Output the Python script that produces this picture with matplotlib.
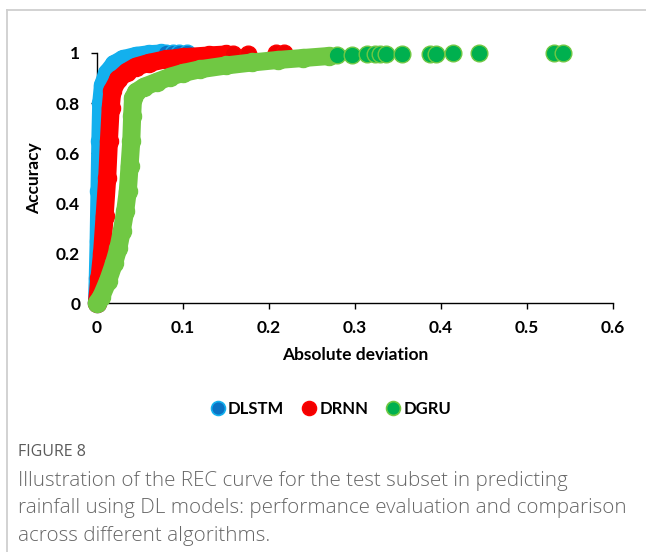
import matplotlib
matplotlib.use("Agg")
import matplotlib.pyplot as plt
from matplotlib.lines import Line2D

# ---- data ----
series_names = ["DLSTM", "DRNN", "DGRU"]

dlstm_dev = [0.000, 0.001, 0.002, 0.003, 0.004, 0.005, 0.007, 0.012, 0.020, 0.030, 0.045, 0.060, 0.075]
dlstm_acc = [0.00, 0.10, 0.25, 0.45, 0.65, 0.80, 0.87, 0.92, 0.955, 0.975, 0.988, 0.995, 0.998]
dlstm_tail_dev = [0.080, 0.088, 0.095, 0.105]
dlstm_tail_acc = [0.999, 0.999, 1.0, 1.0]

drnn_dev = [0.000, 0.003, 0.006, 0.009, 0.012, 0.014, 0.016, 0.018, 0.025, 0.035, 0.045, 0.060, 0.080, 0.100, 0.130, 0.150]
drnn_acc = [0.00, 0.10, 0.20, 0.35, 0.50, 0.65, 0.78, 0.85, 0.895, 0.925, 0.945, 0.960, 0.975, 0.983, 0.990, 0.994]
drnn_tail_dev = [0.158, 0.176, 0.208, 0.218]
drnn_tail_acc = [0.996, 0.997, 0.998, 0.999]

dgru_dev = [0.000, 0.005, 0.013, 0.020, 0.025, 0.029, 0.033, 0.036, 0.038, 0.040, 0.041, 0.042, 0.046,
            0.055, 0.070, 0.085, 0.100, 0.120, 0.150, 0.180, 0.210, 0.240, 0.270]
dgru_acc = [0.00, 0.025, 0.09, 0.16, 0.22, 0.29, 0.37, 0.45, 0.55, 0.65, 0.75, 0.82, 0.845,
            0.865, 0.885, 0.905, 0.920, 0.935, 0.950, 0.962, 0.972, 0.980, 0.988]
dgru_tail_dev = [0.279, 0.297, 0.314, 0.323, 0.329, 0.336, 0.355, 0.387, 0.394, 0.414, 0.444, 0.531, 0.542]
dgru_tail_acc = [0.992, 0.993, 0.994, 0.994, 0.995, 0.995, 0.996, 0.997, 0.997, 0.998, 0.998, 0.999, 1.0]

x_ticks = [0, 0.1, 0.2, 0.3, 0.4, 0.5, 0.6]
y_ticks = [0, 0.2, 0.4, 0.6, 0.8, 1]

# ---- styles ----
light = {"DLSTM": "#13B0EE", "DRNN": "#FF0000", "DGRU": "#70C843"}
dark = {"DLSTM": "#0A72C4", "DRNN": "#F00000", "DGRU": "#00B04F"}
BOLD = "Lato"

fig = plt.figure(figsize=(6.46, 5.52), dpi=100)
ax = fig.add_axes([0.150, 0.451, 0.799, 0.453])

curves = {
    "DLSTM": (dlstm_dev, dlstm_acc, dlstm_tail_dev, dlstm_tail_acc),
    "DRNN": (drnn_dev, drnn_acc, drnn_tail_dev, drnn_tail_acc),
    "DGRU": (dgru_dev, dgru_acc, dgru_tail_dev, dgru_tail_acc),
}
ms = 13.0
for i, name in enumerate(series_names):
    d, a, td, ta = curves[name]
    z = 3 + i
    ax.plot(d, a, color=light[name], lw=ms, solid_capstyle="round",
            solid_joinstyle="round", zorder=z, clip_on=False)
    ax.plot(d, a, ls="none", marker="o", ms=ms, mfc=light[name], mec=light[name],
            zorder=z, clip_on=False)
    ax.plot(td, ta, ls="none", marker="o", ms=ms - 1.0, mfc=dark[name], mec=light[name],
            mew=1.0, zorder=z, clip_on=False)

ax.set_xlim(0, 0.6)
ax.set_ylim(0, 1)
ax.set_xticks(x_ticks)
ax.set_yticks(y_ticks)
ax.set_xticklabels([f"{v:g}" for v in x_ticks])
ax.set_yticklabels([f"{v:g}" for v in y_ticks])
for s in ["top", "right"]:
    ax.spines[s].set_visible(False)
for s in ["left", "bottom"]:
    ax.spines[s].set_linewidth(1.0)
    ax.spines[s].set_color("#000000")
ax.tick_params(direction="out", length=4, width=1.0, pad=8, labelsize=12.5, colors="#000000")
for lab in ax.get_xticklabels() + ax.get_yticklabels():
    lab.set_fontfamily(BOLD)
    lab.set_fontweight("bold")

ax.set_xlabel("Absolute deviation", fontfamily=BOLD, fontweight="bold", fontsize=12.5, labelpad=8)
ax.set_ylabel("Accuracy", fontfamily=BOLD, fontweight="bold", fontsize=12.5, labelpad=10)

handles = [Line2D([], [], ls="none", marker="o", ms=10, mfc=dark[n], mec=light[n], mew=1.2)
           for n in series_names]
fig.legend(handles, series_names, loc="center", bbox_to_anchor=(0.51, 1 - 409 / 552), ncol=3,
           frameon=False, handletextpad=0.0, columnspacing=0.9, handlelength=1.2,
           prop={"family": BOLD, "weight": "bold", "size": 12})

# caption
fig.text(18 / 646, 1 - 452 / 552, "FIGURE 8", fontfamily="Open Sans", fontsize=11.5,
         color="#5b5b5b", va="center", ha="left")
caption = ["Illustration of the REC curve for the test subset in predicting",
           "rainfall using DL models: performance evaluation and comparison",
           "across different algorithms."]
for k, line in enumerate(caption):
    fig.text(18 / 646, 1 - (481 + 27.3 * k) / 552, line, fontfamily="Open Sans", fontweight="light",
             fontsize=14.8, color="#666666", va="center", ha="left")

# frame
fig.add_artist(Line2D([7 / 646, 1.0], [1 - 9.5 / 552, 1 - 9.5 / 552], transform=fig.transFigure,
                      color="#cfcfcf", lw=1.3))
fig.add_artist(Line2D([7 / 646, 7 / 646], [0, 1 - 9.5 / 552], transform=fig.transFigure,
                      color="#cfcfcf", lw=1.3))

fig.savefig("out.png", dpi=100)
